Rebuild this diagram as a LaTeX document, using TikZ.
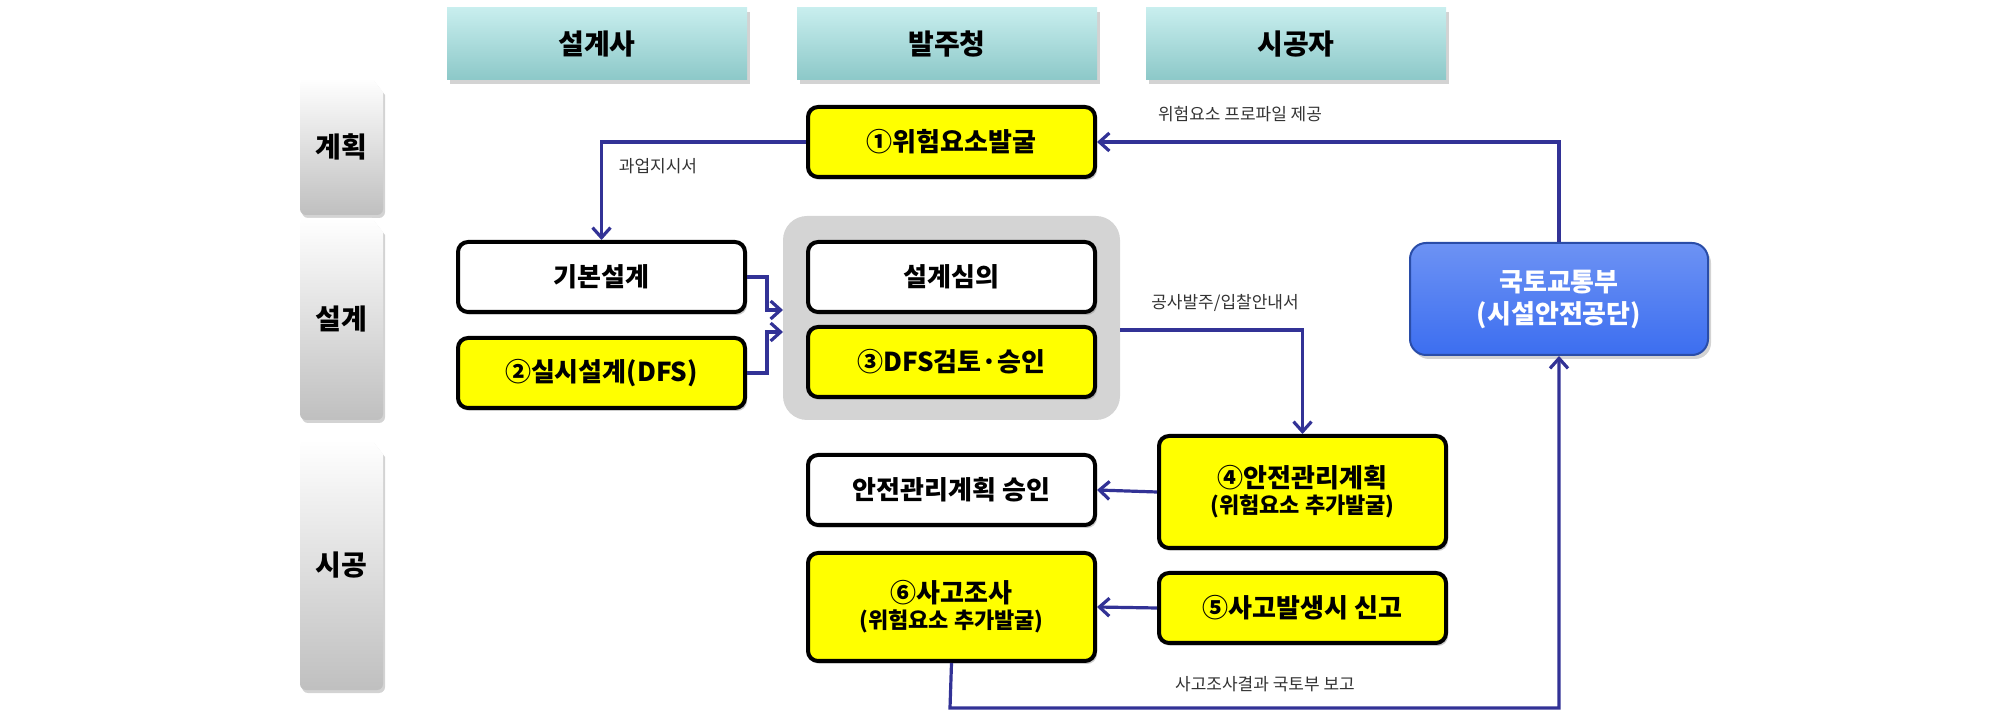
\documentclass[tikz,border=0pt]{standalone}
\usepackage{fontspec}
\setmainfont{Noto Sans CJK KR}
\usetikzlibrary{shadows,arrows.meta}
\definecolor{navy}{RGB}{50,50,150}
\definecolor{yel}{RGB}{255,255,0}
\definecolor{teal1}{RGB}{200,238,238}
\definecolor{teal2}{RGB}{140,200,200}
\definecolor{blu}{RGB}{60,110,240}
\begin{document}
\begin{tikzpicture}[x=0.5pt,y=-0.5pt,
 box/.style={draw=black,line width=2pt,rounded corners=5pt,minimum width=143.5pt,minimum height=35pt,font=\bfseries\fontsize{13}{15}\selectfont,align=center,drop shadow={shadow xshift=1pt,shadow yshift=-1.5pt,opacity=0.4},inner sep=1pt},
 ybox/.style={box,fill=yel},
 wbox/.style={box,fill=white},
 head/.style={minimum width=150pt,minimum height=36pt,top color=teal1,bottom color=teal2,font=\bfseries\fontsize{14}{16}\selectfont,drop shadow={shadow xshift=1.5pt,shadow yshift=-2pt,opacity=0.35}},
 conn/.style={navy,line width=1.6pt,-{Straight Barb[length=5pt,width=9pt,line width=1.6pt]}},
 lab/.style={font=\fontsize{8.5}{10}\selectfont,text=black!80}]
\useasboundingbox (0,0) rectangle (2008,726);
% headers
\node[head] (h1) at (597,44) {설계사};
\node[head] (h2) at (947,44) {발주청};
\node[head] (h3) at (1296,44) {시공자};
% row labels
\foreach \n/\ya/\yb/\t in {r1/78/215/계획, r2/218/420/설계, r3/440/690/시공}{
 \shade[top color=white,bottom color=black!25,drop shadow={shadow xshift=1pt,shadow yshift=-1.5pt,opacity=0.35}]
  (300,\ya+6) -- (300,\yb-6) to[out=-90,in=180] (306,\yb) -- (377,\yb) to[out=0,in=-90] (383,\yb-6) -- (383,\ya+14) -- (372,\ya) -- (306,\ya) to[out=180,in=90] cycle;
 \node[font=\bfseries\fontsize{14}{16}\selectfont] (\n) at (341.5,{(\ya+\yb)/2}) {\t};
}
% gray panel
\fill[black!17,rounded corners=12pt] (783,216) rectangle (1120,420);
% boxes
\node[ybox] (b1) at (951.5,142) {①위험요소발굴};
\node[wbox] (kb) at (601.5,277) {기본설계};
\node[ybox] (b2) at (601.5,373) {②실시설계(DFS)};
\node[wbox] (sj) at (951.5,277) {설계심의};
\node[ybox] (b3) at (951.5,362) {③DFS검토·승인};
\node[ybox,minimum height=56pt] (b4) at (1302.5,492) {④안전관리계획\\[-2pt]{\fontsize{11}{13}\selectfont (위험요소 추가발굴)}};
\node[wbox] (ap) at (951.5,490) {안전관리계획 승인};
\node[ybox,minimum height=54pt] (b6) at (951.5,607) {⑥사고조사\\[-2pt]{\fontsize{11}{13}\selectfont (위험요소 추가발굴)}};
\node[ybox] (b5) at (1302.5,608) {⑤사고발생시 신고};
\node[draw=blu!70!black,line width=1pt,top color=blu!75,bottom color=blu,rounded corners=8pt,minimum width=149pt,minimum height=56pt,text=white,font=\bfseries\fontsize{13}{16}\selectfont,align=center,drop shadow={shadow xshift=1.5pt,shadow yshift=-2pt,opacity=0.35}] (mo) at (1559,299) {국토교통부\\(시설안전공단)};
% connectors
\coordinate (g) at (1120,330);
\draw[conn] (mo.north) |- (b1.east);
\node[lab] at (1240,114) {위험요소 프로파일 제공};
\draw[conn] (b1.west) -| (kb.north);
\node[lab] at (658,166) {과업지시서};
\draw[conn] (kb.east) -- ++(20,0) |- (783,310);
\draw[conn] (b2.east) -- ++(20,0) |- (783,332);
\draw[conn] (g) -| (b4.north);
\node[lab] at (1225,303) {공사발주/입찰안내서};
\draw[conn] (b4.west) -- (ap.east);
\draw[conn] (b5.west) -- (b6.east);
\draw[conn] (b6.south) -- (950,708) -| (mo.south);
\node[lab] at (1265,684) {사고조사결과 국토부 보고};
\end{tikzpicture}
\end{document}
